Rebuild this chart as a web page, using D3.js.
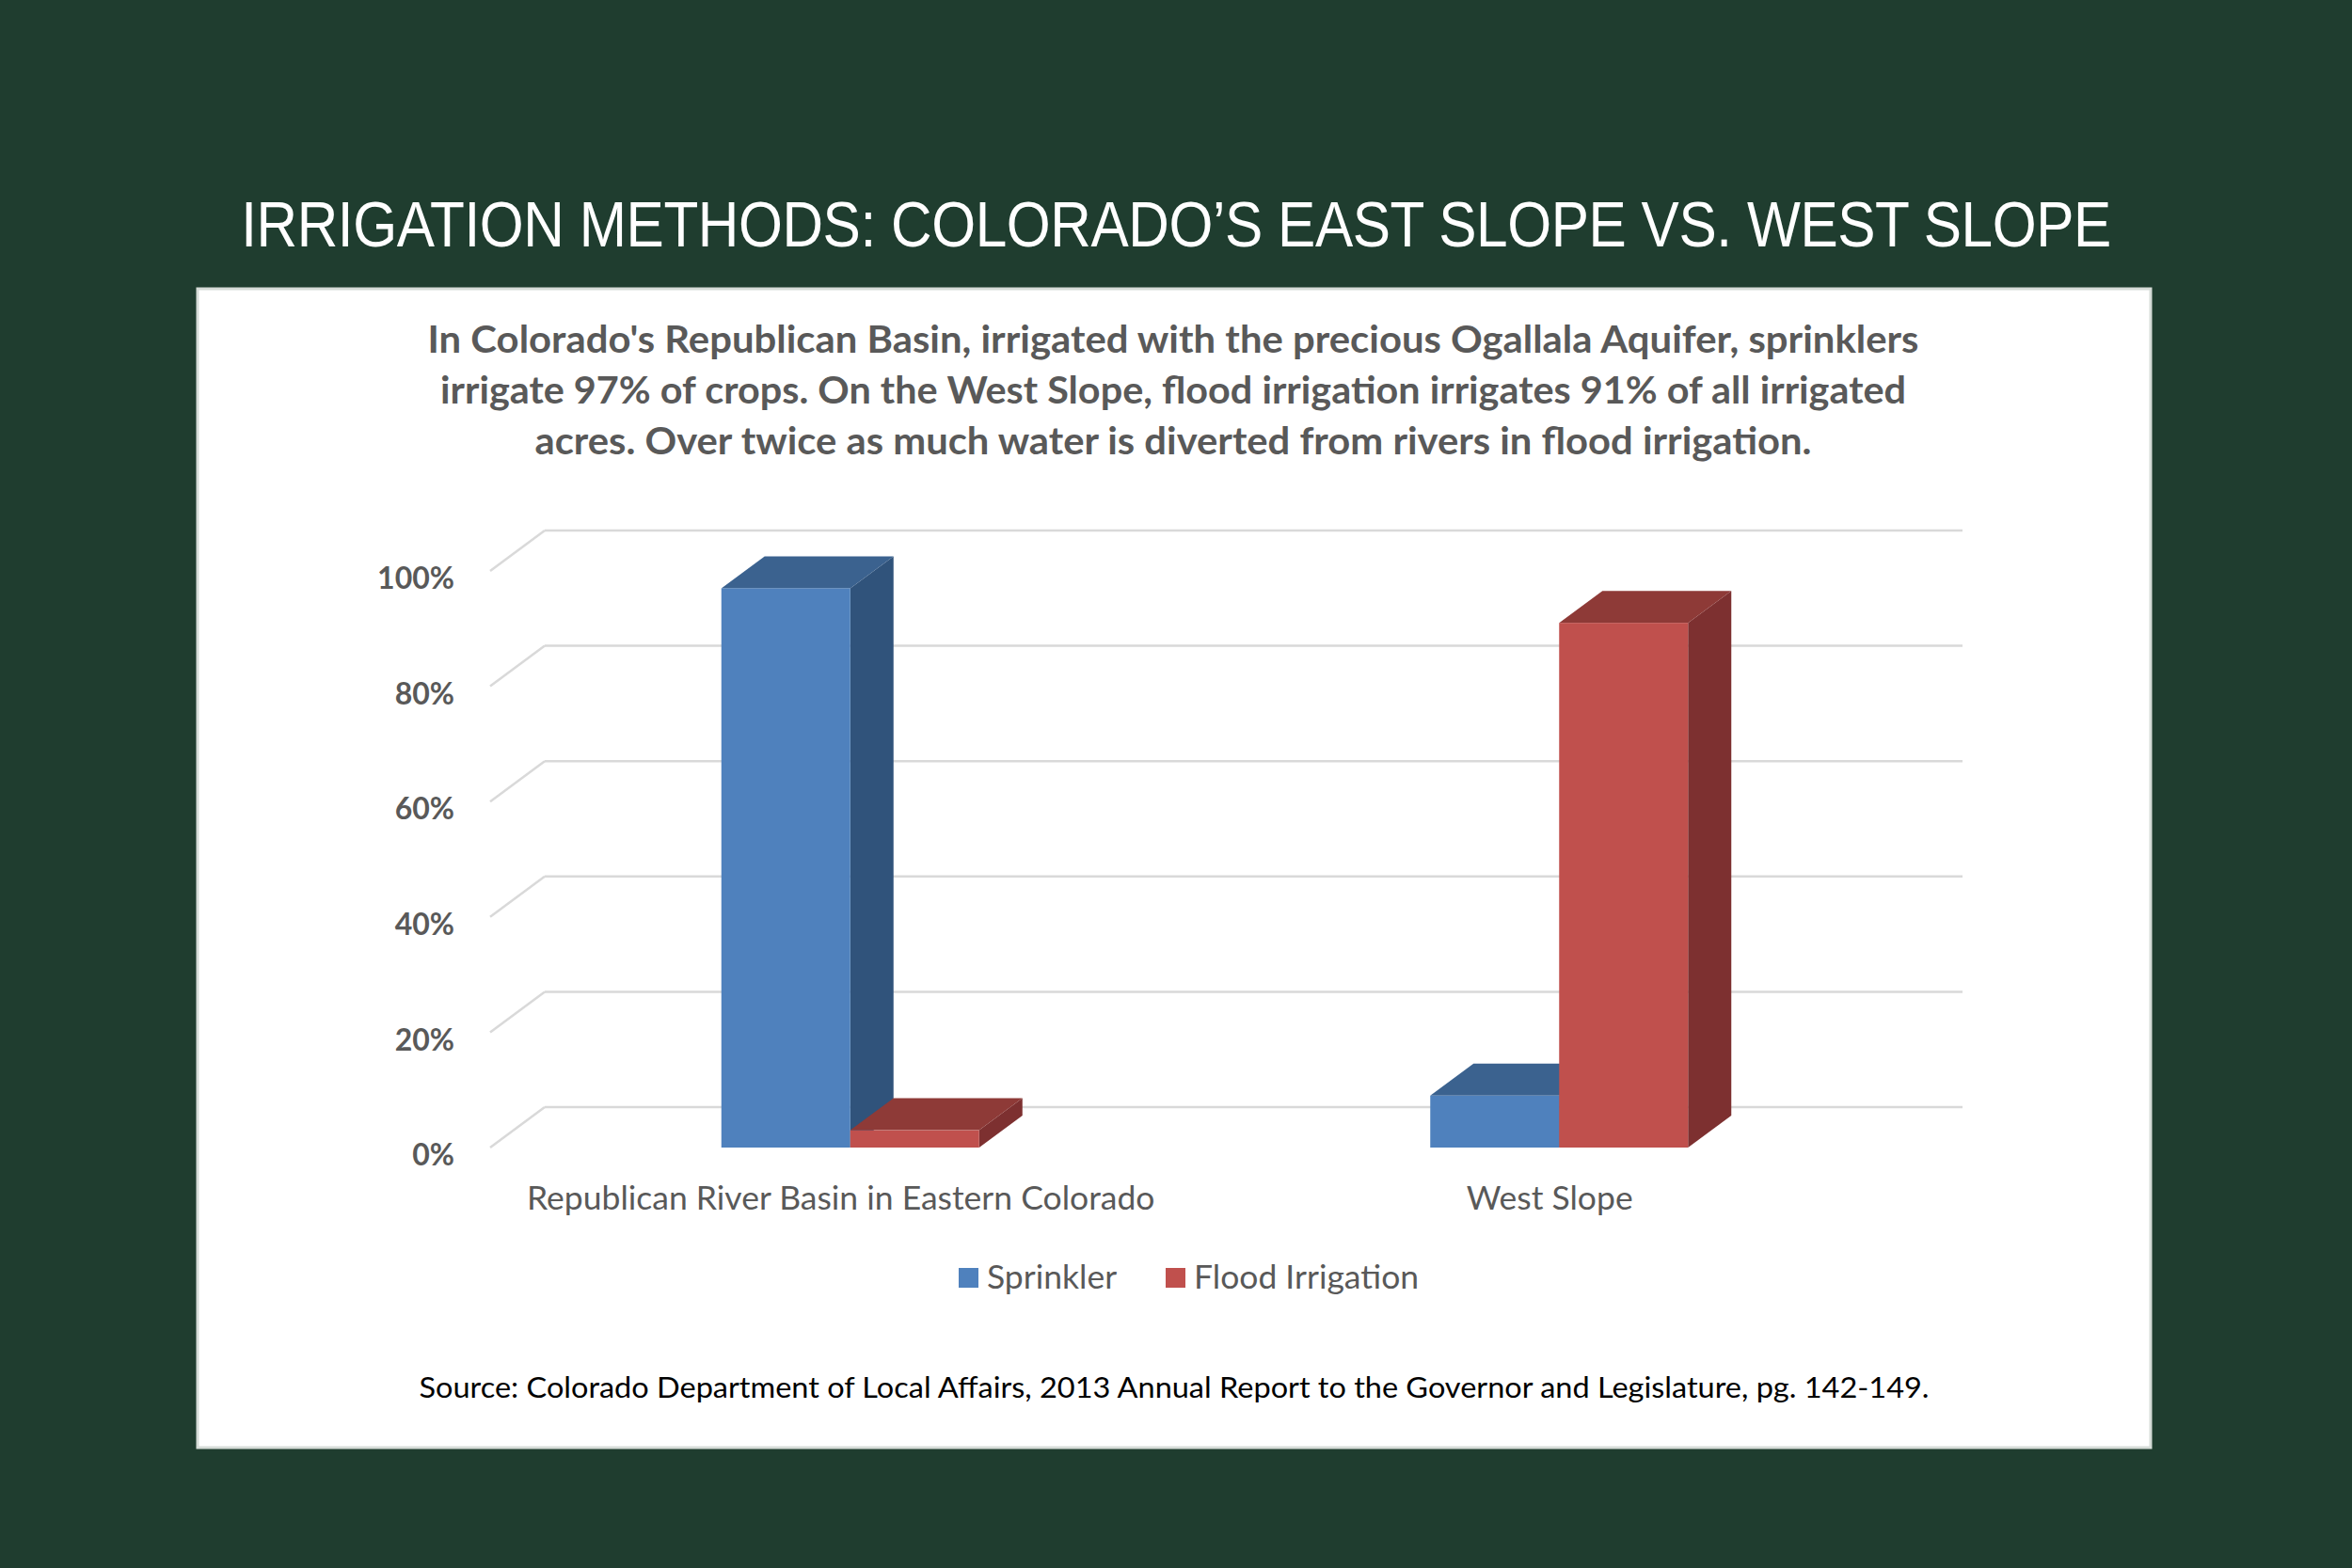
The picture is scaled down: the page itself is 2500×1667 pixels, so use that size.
<!DOCTYPE html>
<html>
<head>
<meta charset="utf-8">
<script src="https://cdn.jsdelivr.net/npm/d3@7"></script>
<style>
  html, body { margin: 0; padding: 0; background: #1f3d2f; }
  svg { display: block; }
</style>
</head>
<body>
<svg id="chart" width="2500" height="1667"></svg>
<script>
// ---- Data ----
const categories = ["Republican River Basin in Eastern Colorado", "West Slope"];
const series = ["Sprinkler", "Flood Irrigation"];
const sprinkler = [97, 9];
const flood = [3, 91];
const yTicks = [0, 20, 40, 60, 80, 100];
const titleText = "IRRIGATION METHODS: COLORADO\u2019S EAST SLOPE VS. WEST SLOPE";
const subtitleLines = [
  "In Colorado's Republican Basin, irrigated with the precious Ogallala Aquifer, sprinklers",
  "irrigate 97% of crops. On the West Slope, flood irrigation irrigates 91% of all irrigated",
  "acres. Over twice as much water is diverted from rivers in flood irrigation."
];
const sourceText = "Source: Colorado Department of Local Affairs, 2013 Annual Report to the Governor and Legislature, pg. 142-149.";

const seriesValues = [sprinkler, flood];
const colors = {
  "Sprinkler": { front: "#4f81bd", top: "#3b628f", side: "#30537b" },
  "Flood Irrigation": { front: "#c0504d", top: "#8e3a37", side: "#7d3030" }
};

const svg = d3.select("#chart");

// background
svg.append("rect").attr("width", 2500).attr("height", 1667).attr("fill", "#1f3d2f");

// title: condensed by horizontal scaling
const titleG = svg.append("g");
const title = titleG.append("text")
  .attr("x", 0).attr("y", 0)
  .attr("text-anchor", "middle")
  .attr("font-family", "Liberation Sans, Arial, sans-serif")
  .attr("font-size", 69)
  .attr("letter-spacing", -0.5)
  .attr("fill", "#ffffff")
  .text(titleText);
const natW = title.node().getComputedTextLength();
const sx = 1988 / natW;
titleG.attr("transform", `translate(1250,262) scale(${sx.toFixed(4)},1)`);

// panel
svg.append("rect")
  .attr("x", 210).attr("y", 307).attr("width", 2076).attr("height", 1232)
  .attr("fill", "#ffffff").attr("stroke", "#d6dcd8").attr("stroke-width", 3);

// subtitle
const subWidths = [1585, 1558, 1357];
const subY = [375, 429, 483];
subtitleLines.forEach((t, i) => {
  svg.append("text")
    .attr("x", 1247).attr("y", subY[i])
    .attr("text-anchor", "middle")
    .attr("font-family", "Lato, 'Open Sans', sans-serif")
    .attr("font-weight", 700)
    .attr("font-size", 40)
    .attr("fill", "#595959")
    .attr("textLength", subWidths[i])
    .attr("lengthAdjust", "spacingAndGlyphs")
    .text(t);
});

// ---- Scales ----
const front = { x0: 521, x1: 2028, y0: 1220, y1: 607 };
const wallDx = 58, wallDy = -43;   // floor/wall depth
const barDx = 46, barDy = -34;     // bar depth

const y = d3.scaleLinear().domain([0, 100]).range([front.y0, front.y1]);
const x0 = d3.scaleBand().domain(categories).range([front.x0, front.x1]).padding(0);
const x1 = d3.scaleBand().domain(series).range([0, x0.bandwidth()]).paddingInner(0).paddingOuter(1.75);

// gridlines (3D back wall + side)
const grid = svg.append("g");
yTicks.forEach(t => {
  const yf = y(t);
  grid.append("line")
    .attr("x1", front.x0).attr("y1", yf)
    .attr("x2", front.x0 + wallDx).attr("y2", yf + wallDy)
    .attr("stroke", "#d9d9d9").attr("stroke-width", 2.5);
  grid.append("line")
    .attr("x1", front.x0 + wallDx).attr("y1", yf + wallDy)
    .attr("x2", front.x1 + wallDx).attr("y2", yf + wallDy)
    .attr("stroke", "#d9d9d9").attr("stroke-width", 2.5);
});

// y labels
const yAxis = svg.append("g");
yTicks.forEach(t => {
  yAxis.append("text")
    .attr("x", 483).attr("y", y(t) + 11)
    .attr("dominant-baseline", "middle")
    .attr("text-anchor", "end")
    .attr("font-family", "Lato, 'Open Sans', sans-serif")
    .attr("font-weight", 700)
    .attr("font-size", 32)
    .attr("fill", "#595959")
    .text(t + "%");
});

// bars
const bars = svg.append("g");
categories.forEach((cat, ci) => {
  series.forEach((s, si) => {
    const v = seriesValues[si][ci];
    const xl = x0(cat) + x1(s) + 6;
    const w = x1.bandwidth();
    const yt = y(v), yb = y(0);
    const c = colors[s];
    const g = bars.append("g");
    g.append("path")
      .attr("d", `M${xl + w},${yb} L${xl + w + barDx},${yb + barDy} L${xl + w + barDx},${yt + barDy} L${xl + w},${yt} Z`)
      .attr("fill", c.side);
    g.append("path")
      .attr("d", `M${xl},${yt} L${xl + barDx},${yt + barDy} L${xl + w + barDx},${yt + barDy} L${xl + w},${yt} Z`)
      .attr("fill", c.top);
    g.append("rect")
      .attr("x", xl).attr("y", yt).attr("width", w).attr("height", yb - yt)
      .attr("fill", c.front);
  });
});

// category labels
categories.forEach(cat => {
  svg.append("text")
    .attr("x", x0(cat) + x0.bandwidth() / 2 - 4).attr("y", 1286)
    .attr("text-anchor", "middle")
    .attr("font-family", "Lato, 'Open Sans', sans-serif")
    .attr("font-size", 35.5)
    .attr("fill", "#595959")
    .text(cat);
});

// legend
const legendX = [1019, 1239];
series.forEach((s, i) => {
  svg.append("rect")
    .attr("x", legendX[i]).attr("y", 1348).attr("width", 21).attr("height", 21)
    .attr("fill", colors[s].front);
  svg.append("text")
    .attr("x", legendX[i] + 30).attr("y", 1370)
    .attr("font-family", "Lato, 'Open Sans', sans-serif")
    .attr("font-size", 35.5)
    .attr("fill", "#595959")
    .text(s);
});

// source
svg.append("text")
  .attr("x", 1248).attr("y", 1486)
  .attr("text-anchor", "middle")
  .attr("font-family", "Lato, 'Open Sans', sans-serif")
  .attr("font-size", 30)
  .attr("fill", "#000000")
  .attr("textLength", 1605)
  .attr("lengthAdjust", "spacingAndGlyphs")
  .text(sourceText);
</script>
</body>
</html>
